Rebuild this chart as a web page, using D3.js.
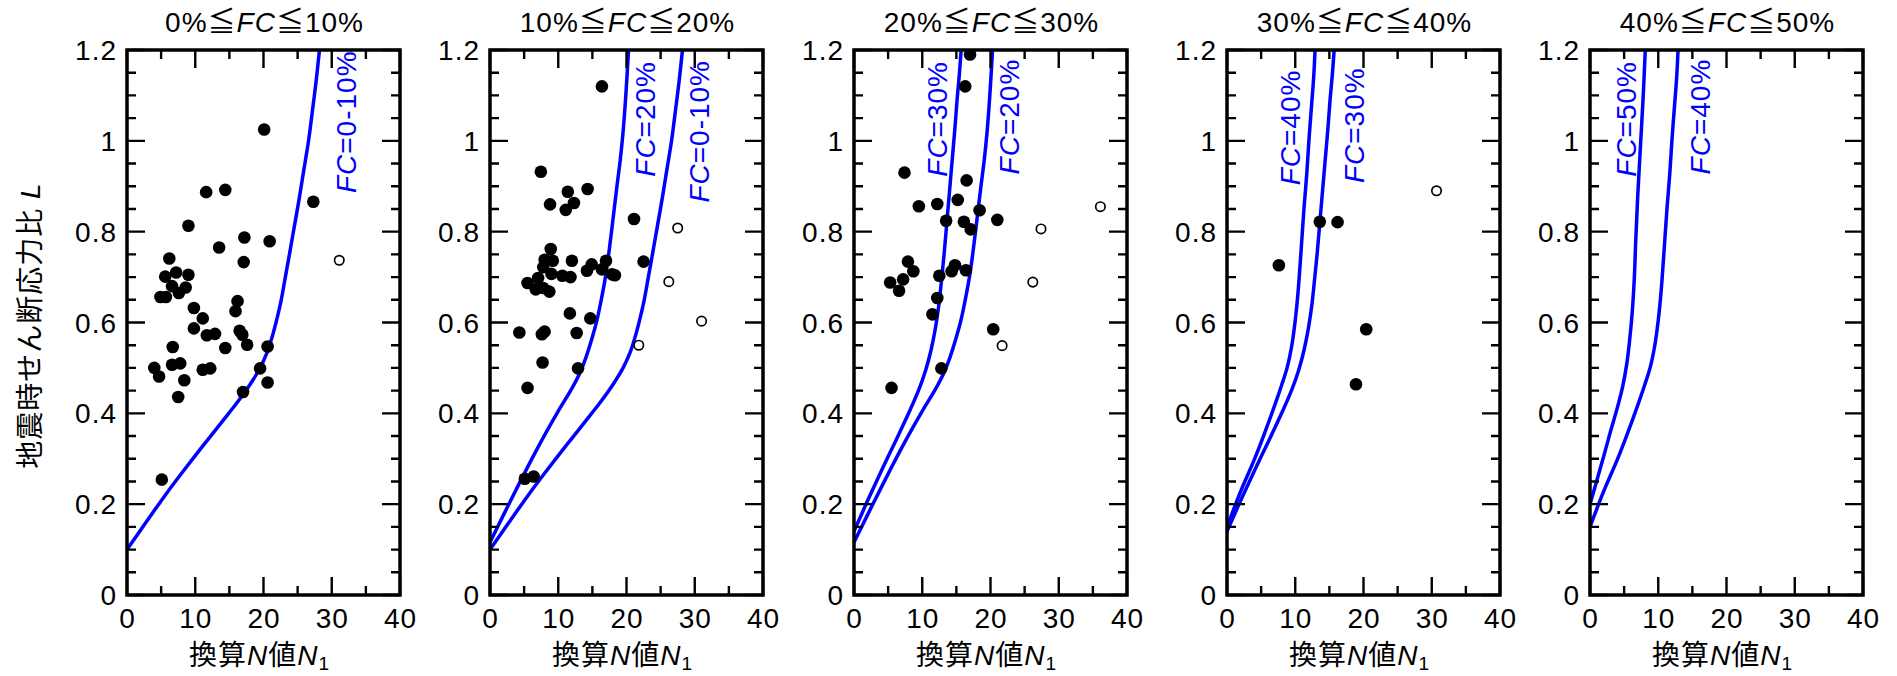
<!DOCTYPE html>
<html>
<head>
<meta charset="utf-8">
<script src="https://cdn.jsdelivr.net/npm/d3@7"></script>
<style>
  html, body { margin: 0; padding: 0; background: #fff; overflow: hidden; }
  svg { display: block; }
  svg text {
    font-family: "Liberation Sans", Arial, "Noto Sans CJK JP", sans-serif;
    font-size: 28px;
    letter-spacing: 1px;
    fill: #000;
  }
  .tick-marks { fill: none; stroke: #000; stroke-width: 2.4px; }
  .frame { fill: none; stroke: #000; stroke-width: 3.5px; }
</style>
</head>
<body>
<svg id="chart" width="1897" height="676" viewBox="0 0 1897 676"></svg>
<script>
// ---- data ---------------------------------------------------------------
// fines-content ranges for each panel (percent)
const fcRanges = [[0, 10], [10, 20], [20, 30], [30, 40], [40, 50]];

// x-axis (N1) and y-axis (L) tick values
const xMajorTicks = [0, 10, 20, 30, 40];
const xMinorTicks = [5, 15, 25, 35];
const yMajorTicks = [0, 0.2, 0.4, 0.6, 0.8, 1.0, 1.2];
const yMinorTicks = [0.05, 0.1, 0.15, 0.25, 0.3, 0.35, 0.45, 0.5, 0.55, 0.65, 0.7, 0.75,
                     0.85, 0.9, 0.95, 1.05, 1.1, 1.15];

// resistance curves [N1, L]
const curveFC0to10 = [[0,0.1],[2,0.143],[4,0.186],[6,0.228],[8,0.268],[10,0.307],[12,0.345],
  [14,0.383],[16,0.421],[18,0.463],[19.5,0.5],[20.5,0.533],[21.3,0.57],[22,0.61],[22.6,0.65],
  [23.2,0.7],[23.8,0.75],[24.5,0.81],[25.2,0.87],[25.9,0.935],[26.6,1.0],[27.2,1.07],
  [27.7,1.13],[28.2,1.2]];
const curveFC20 = [[0,0.116],[2,0.177],[4,0.237],[6,0.296],[8,0.352],[10,0.405],[12,0.455],
  [13.2,0.49],[14.1,0.525],[15,0.568],[15.7,0.607],[16.3,0.65],[16.8,0.69],[17.3,0.74],
  [17.8,0.8],[18.2,0.85],[18.6,0.9],[19.1,0.96],[19.5,1.02],[19.9,1.1],[20.3,1.2]];
const curveFC30 = [[0,0.14],[2,0.208],[4,0.273],[6,0.336],[8,0.4],[9.5,0.452],[10.5,0.495],
  [11.3,0.54],[11.9,0.585],[12.4,0.635],[12.8,0.69],[13.2,0.75],[13.6,0.82],[14,0.89],
  [14.4,0.96],[14.8,1.03],[15.1,1.09],[15.4,1.14],[15.7,1.2]];
const curveFC40 = [[0,0.15],[2,0.228],[4,0.298],[5.4,0.352],[7,0.418],[8,0.462],[8.8,0.5],
  [9.5,0.55],[10,0.605],[10.4,0.665],[10.7,0.725],[11,0.79],[11.3,0.855],[11.7,0.93],
  [12,1.0],[12.4,1.08],[12.7,1.14],[12.9,1.2]];
const curveFC50 = [[0,0.2],[1,0.252],[2,0.305],[3,0.36],[4,0.412],[4.8,0.46],[5.4,0.51],
  [5.8,0.56],[6.2,0.625],[6.5,0.7],[6.7,0.78],[7,0.88],[7.4,0.99],[7.8,1.1],[8.1,1.2]];

// observed sites [N1, L]: filled = liquefied, open = not liquefied
const filled1 = [[20.1,1.025],[11.6,0.887],[14.4,0.892],[27.3,0.866],[9.0,0.813],[13.5,0.765],
  [17.2,0.787],[20.9,0.779],[17.1,0.733],[6.2,0.741],[5.6,0.701],[7.2,0.710],[9.0,0.705],
  [4.9,0.656],[5.7,0.656],[6.6,0.680],[7.6,0.665],[8.6,0.677],[9.8,0.632],[9.8,0.587],
  [11.1,0.609],[11.7,0.572],[12.9,0.575],[14.4,0.544],[16.2,0.647],[15.9,0.625],[16.5,0.582],
  [16.9,0.573],[17.6,0.551],[20.6,0.547],[19.5,0.499],[20.6,0.468],[17.0,0.447],[6.7,0.546],
  [6.6,0.507],[7.8,0.510],[4.0,0.500],[4.7,0.481],[8.4,0.473],[7.5,0.436],[11.1,0.496],
  [12.2,0.499],[5.1,0.254]];
const open1 = [[31.1,0.737]];

const filled2 = [[16.4,1.120],[7.45,0.932],[11.4,0.888],[14.3,0.894],[8.8,0.860],[12.3,0.863],
  [11.1,0.848],[21.1,0.828],[8.9,0.762],[8.0,0.738],[9.2,0.736],[12.0,0.736],[14.9,0.728],
  [17.0,0.736],[22.5,0.734],[7.8,0.722],[14.2,0.714],[16.4,0.717],[9.0,0.707],[10.6,0.703],
  [11.8,0.700],[17.9,0.706],[18.3,0.704],[5.5,0.687],[7.05,0.698],[6.7,0.673],[7.8,0.676],
  [8.7,0.668],[11.7,0.620],[14.7,0.609],[4.3,0.578],[7.6,0.574],[8.0,0.580],[12.7,0.577],
  [7.7,0.512],[12.9,0.499],[5.5,0.456],[5.1,0.256],[6.4,0.261]];
const open2 = [[27.5,0.808],[26.2,0.690],[31.0,0.603],[21.8,0.550]];

const filled3 = [[17.0,1.19],[16.3,1.120],[7.4,0.930],[16.5,0.913],[15.2,0.870],[9.5,0.856],
  [12.2,0.861],[18.4,0.847],[13.5,0.824],[16.1,0.822],[17.1,0.805],[21.0,0.826],[7.9,0.734],
  [8.7,0.713],[7.2,0.695],[5.3,0.688],[6.6,0.670],[12.5,0.703],[14.3,0.713],[14.8,0.726],
  [16.4,0.715],[12.2,0.654],[11.5,0.618],[20.4,0.585],[12.8,0.499],[5.5,0.456]];
const open3 = [[36.1,0.855],[27.4,0.806],[26.2,0.689],[21.7,0.549]];

const filled4 = [[13.6,0.822],[16.2,0.821],[7.6,0.726],[20.4,0.585],[18.9,0.464]];
const open4 = [[30.7,0.890]];

const filled5 = [];
const open5 = [];

// curve label suffix texts shown after the italic "FC"
const curveLabelTexts = {
  fc0to10: "=0-10%", fc20: "=20%", fc30: "=30%", fc40: "=40%", fc50: "=50%"
};
const curveData = {
  fc0to10: curveFC0to10, fc20: curveFC20, fc30: curveFC30, fc40: curveFC40, fc50: curveFC50
};

// which curves appear in each panel
const panelCurves = [["fc0to10"], ["fc20", "fc0to10"], ["fc30", "fc20"], ["fc40", "fc30"], ["fc50", "fc40"]];
const panelFilled = [filled1, filled2, filled3, filled4, filled5];
const panelOpen = [open1, open2, open3, open4, open5];

// ---- layout -------------------------------------------------------------
const panelLeft = [127, 490, 854, 1227, 1590];
const plotW = 273, plotTop = 50, plotBottom = 595;
const majorLen = 18, minorLen = 9;
// label anchors in data units: [baseline N1, starting L]
const curveLabelPos = [
  [[33.6, 0.885]],
  [[24.2, 0.921], [32.1, 0.864]],
  [[13.6, 0.921], [24.2, 0.926]],
  [[10.7, 0.902], [20.1, 0.907]],
  [[6.8, 0.921], [17.6, 0.926]]
];
const blue = "#0000ff";

const svg = d3.select("#chart");

panelLeft.forEach((left, i) => {
  const x = d3.scaleLinear().domain([0, 40]).range([left, left + plotW]);
  const y = d3.scaleLinear().domain([0, 1.2]).range([plotBottom, plotTop]);
  const right = x(40);
  const g = svg.append("g");

  const clipId = "clip" + i;
  g.append("clipPath").attr("id", clipId)
    .append("rect")
    .attr("x", x(0)).attr("y", y(1.2))
    .attr("width", x(40) - x(0)).attr("height", y(0) - y(1.2));

  // resistance curves
  const line = d3.line().x(d => x(d[0])).y(d => y(d[1])).curve(d3.curveCatmullRom.alpha(0.5));
  const plot = g.append("g").attr("clip-path", `url(#${clipId})`);
  panelCurves[i].forEach(key => {
    plot.append("path")
      .attr("d", line(curveData[key]))
      .style("fill", "none")
      .style("stroke", blue)
      .style("stroke-width", "3.5px")
      .style("stroke-linejoin", "round");
  });

  // curve labels
  panelCurves[i].forEach((key, j) => {
    const [bx, sy] = curveLabelPos[i][j];
    const t = g.append("text")
      .attr("transform", `translate(${x(bx)},${y(sy)}) rotate(-90)`)
      .attr("text-anchor", "start")
      .style("fill", blue);
    t.append("tspan").attr("font-style", "italic").text("FC");
    t.append("tspan").text(curveLabelTexts[key]);
  });

  // observed points
  plot.selectAll("circle.filled").data(panelFilled[i]).join("circle")
    .attr("class", "filled")
    .attr("cx", d => x(d[0])).attr("cy", d => y(d[1]))
    .attr("r", 6.3).style("fill", "#000");
  plot.selectAll("circle.open").data(panelOpen[i]).join("circle")
    .attr("class", "open")
    .attr("cx", d => x(d[0])).attr("cy", d => y(d[1]))
    .attr("r", 4.7)
    .style("fill", "#fff").style("stroke", "#000").style("stroke-width", "1.7px");

  // inward ticks on all four sides, drawn as one path
  const xTicks = xMajorTicks.map(v => [v, majorLen]).concat(xMinorTicks.map(v => [v, minorLen]));
  const yTicks = yMajorTicks.map(v => [v, majorLen]).concat(yMinorTicks.map(v => [v, minorLen]));
  const tickPath = d3.path();
  xTicks.forEach(([v, len]) => {
    tickPath.moveTo(x(v), plotBottom); tickPath.lineTo(x(v), plotBottom - len);
    tickPath.moveTo(x(v), plotTop); tickPath.lineTo(x(v), plotTop + len);
  });
  yTicks.forEach(([v, len]) => {
    tickPath.moveTo(left, y(v)); tickPath.lineTo(left + len, y(v));
    tickPath.moveTo(right, y(v)); tickPath.lineTo(right - len, y(v));
  });
  g.append("path").attr("class", "tick-marks").attr("d", tickPath.toString());

  // tick labels
  g.append("g").selectAll("text").data(xMajorTicks).join("text")
    .attr("x", d => x(d) + 0.5).attr("y", 628)
    .attr("text-anchor", "middle")
    .text(d3.format("d"));
  g.append("g").selectAll("text").data(yMajorTicks).join("text")
    .attr("x", left - 10).attr("y", d => y(d) + 10)
    .attr("text-anchor", "end")
    .text(d => String(+d.toFixed(1)));

  // frame
  g.append("rect").attr("class", "frame")
    .attr("x", left).attr("y", plotTop)
    .attr("width", plotW).attr("height", plotBottom - plotTop);

  // panel title
  const cx = left + plotW / 2;
  const [lo, hi] = fcRanges[i];
  const title = g.append("text").attr("x", cx + 1).attr("y", 32).attr("text-anchor", "middle");
  title.append("tspan").text(`${lo}%≦`);
  title.append("tspan").attr("font-style", "italic").text("FC");
  title.append("tspan").text(`≦${hi}%`);

  // x-axis title
  const xl = g.append("text").attr("x", cx - 4).attr("y", 665).attr("text-anchor", "middle");
  xl.append("tspan").text("換算");
  xl.append("tspan").attr("font-style", "italic").text("N");
  xl.append("tspan").text("値");
  xl.append("tspan").attr("font-style", "italic").text("N");
  xl.append("tspan").attr("dy", 5).style("font-size", "19px").text("1");
});

// y-axis title
const yl = svg.append("text")
  .attr("transform", `translate(40,${(plotTop + plotBottom) / 2 + 3}) rotate(-90)`)
  .attr("text-anchor", "middle");
yl.append("tspan").text("地震時せん断応力比 ");
yl.append("tspan").attr("font-style", "italic").text("L");
</script>
</body>
</html>
